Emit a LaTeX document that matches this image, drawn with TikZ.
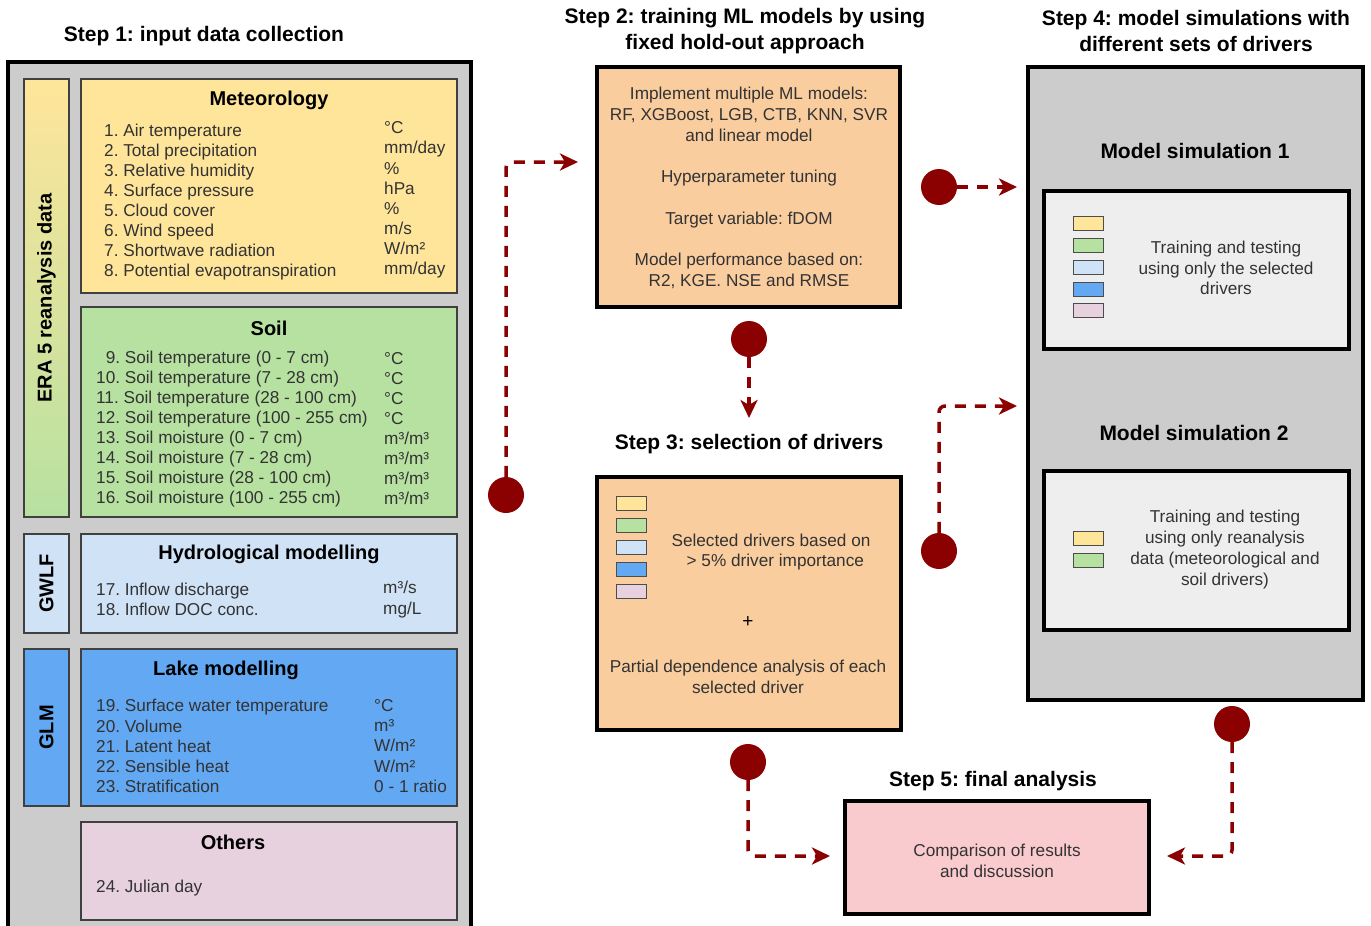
\documentclass[tikz,border=0pt]{standalone}
\usepackage{fontspec}
\setmainfont{Liberation Sans}
\usetikzlibrary{arrows.meta}
\definecolor{met}{HTML}{FFE59A}
\definecolor{soil}{HTML}{B7E1A1}
\definecolor{hyd}{HTML}{CFE2F6}
\definecolor{lake}{HTML}{62A8F2}
\definecolor{oth}{HTML}{E8D1DF}
\definecolor{peach}{HTML}{FACD9F}
\definecolor{rose}{HTML}{F9CACE}
\definecolor{panelgray}{HTML}{CCCCCC}
\definecolor{innergray}{HTML}{EEEEEE}
\definecolor{dred}{HTML}{8B0000}
\frenchspacing

\begin{document}
\begin{tikzpicture}[x=1pt,y=-1pt]
    \tikzstyle{every node}=[inner sep=0]
    \tikzstyle{grp}=[draw=black!75, line width=1.5pt]
    \tikzstyle{panel}=[draw=black, line width=3.5pt, fill=panelgray]
    \tikzstyle{stepbox}=[draw=black, line width=3.5pt]
    \tikzstyle{ttl}=[font=\fontsize{21}{26}\selectfont\bfseries, align=center]
    \tikzstyle{sub}=[font=\fontsize{20}{24}\selectfont\bfseries, align=center]
    \tikzstyle{txt}=[font=\fontsize{17.2}{20.7}\selectfont, text=black!80, align=center]
    \tikzstyle{lst}=[font=\fontsize{17.2}{20.1}\selectfont, text=black!80, align=left, anchor=west]
    \tikzstyle{side}=[font=\fontsize{20}{24}\selectfont\bfseries, rotate=90]
    \tikzstyle{sw}=[draw=black!70, line width=1pt]
    \tikzstyle{dot}=[circle, fill=dred, minimum size=36pt]
    \tikzstyle{link}=[draw=dred, line width=3.5pt, dash pattern=on 11pt off 9pt, rounded corners=6pt, -{Stealth[length=18pt,width=17pt,inset=5pt]}]
    \path[use as bounding box] (0,0) rectangle (1371,926);
    \clip (0,0) rectangle (1371,926);

    \node[ttl] (t1) at (204,36) {Step 1: input data collection};
    \node[panel, minimum width=463pt, minimum height=873pt] (p1) at (239.5,498.5) {};
    \node[grp, top color=met, bottom color=soil, minimum width=45pt, minimum height=438pt] (era) at (46.5,298) {};
    \node[side] at (era) {ERA 5 reanalysis data};
    \node[grp, fill=met, minimum width=376pt, minimum height=214pt] (met) at (269,186) {};
    \node[sub] (metT) at (269,100) {Meteorology};
    \node[lst] (metL) at (104,202) {1. Air temperature\\2. Total precipitation\\3. Relative humidity\\4. Surface pressure\\5. Cloud cover\\6. Wind speed\\7. Shortwave radiation\\8. Potential evapotranspiration};
    \node[lst] (metU) at (384,200) {°C\\mm/day\\\%\\hPa\\\%\\m/s\\W/m²\\mm/day};
    \node[grp, fill=soil, minimum width=376pt, minimum height=210pt] (soil) at (269,412) {};
    \node[sub] (soilT) at (269,328) {Soil};
    \node[lst] (soilL) at (96,429) {\phantom{1}9. Soil temperature (0 - 7 cm)\\10. Soil temperature (7 - 28 cm)\\11. Soil temperature (28 - 100 cm)\\12. Soil temperature (100 - 255 cm)\\13. Soil moisture (0 - 7 cm)\\14. Soil moisture (7 - 28 cm)\\15. Soil moisture (28 - 100 cm)\\16. Soil moisture (100 - 255 cm)};
    \node[lst] (soilU) at (384,428.5) {°C\\°C\\°C\\°C\\m³/m³\\m³/m³\\m³/m³\\m³/m³};
    \node[grp, fill=hyd, minimum width=45pt, minimum height=99pt] (gwlf) at (46.5,583.5) {};
    \node[side] at (gwlf) {GWLF};
    \node[grp, fill=hyd, minimum width=376pt, minimum height=99pt] (hyd) at (269,583.5) {};
    \node[sub] (hydT) at (269,554) {Hydrological modelling};
    \node[lst] (hydL) at (96,599.5) {17. Inflow discharge\\18. Inflow DOC conc.};
    \node[lst] (hydU) at (383,599.5) {m³/s\\mg/L};
    \node[grp, fill=lake, minimum width=45pt, minimum height=157pt] (glm) at (46.5,727.5) {};
    \node[side] at (glm) {GLM};
    \node[grp, fill=lake, minimum width=376pt, minimum height=157pt] (lake) at (269,727.5) {};
    \node[sub] (lakeT) at (226,670) {Lake modelling};
    \node[lst] (lakeL) at (96,746) {19. Surface water temperature\\20. Volume\\21. Latent heat\\22. Sensible heat\\23. Stratification};
    \node[lst] (lakeU) at (374,746) {°C\\m³\\W/m²\\W/m²\\0 - 1 ratio};
    \node[grp, fill=oth, minimum width=376pt, minimum height=98pt] (oth) at (269,871) {};
    \node[sub] (othT) at (233,842) {Others};
    \node[lst] (othL) at (96,888.5) {24. Julian day};

    \node[ttl] (t2) at (745,31) {Step 2: training ML models by using\\fixed hold-out approach};
    \node[stepbox, fill=peach, minimum width=303pt, minimum height=240pt] (s2) at (748.5,187) {};
    \node[txt] (s2txt) at (749,188) {Implement multiple ML models:\\RF, XGBoost, LGB, CTB, KNN, SVR\\and linear model\\[20.7pt]Hyperparameter tuning\\[20.7pt]Target variable: fDOM\\[20.7pt]Model performance based on:\\R2, KGE. NSE and RMSE};

    \node[ttl] (t3) at (749,444) {Step 3: selection of drivers};
    \node[stepbox, fill=peach, minimum width=304pt, minimum height=253pt] (s3) at (749,603.5) {};
    \draw[sw, fill=met] (616,496) rectangle +(30,14);
    \draw[sw, fill=soil] (616,518) rectangle +(30,14);
    \draw[sw, fill=hyd] (616,540) rectangle +(30,14);
    \draw[sw, fill=lake] (616,562) rectangle +(30,14);
    \draw[sw, fill=oth] (616,584) rectangle +(30,14);
    \node[txt] (s3a) at (771,552) {Selected drivers based on\\\phantom{x}> 5\% driver importance};
    \node[txt, text=black, font=\fontsize{19}{20}\selectfont] (s3b) at (748,622) {+};
    \node[txt] (s3c) at (748,677) {Partial dependence analysis of each\\selected driver};

    \node[ttl] (t4) at (1196,31) {Step 4: model simulations with\\different sets of drivers};
    \node[panel, minimum width=335pt, minimum height=633pt] (p4) at (1195.5,383.5) {};
    \node[ttl] (ms1T) at (1195,151) {Model simulation 1};
    \node[stepbox, fill=innergray, minimum width=305pt, minimum height=158pt] (ms1) at (1196.5,270) {};
    \draw[sw, fill=met] (1073,216) rectangle +(30,14);
    \draw[sw, fill=soil] (1073,238) rectangle +(30,14);
    \draw[sw, fill=hyd] (1073,260) rectangle +(30,14);
    \draw[sw, fill=lake] (1073,282) rectangle +(30,14);
    \draw[sw, fill=oth] (1073,303) rectangle +(30,14);
    \node[txt] (ms1txt) at (1226,268) {Training and testing\\using only the selected\\drivers};
    \node[ttl] (ms2T) at (1194,433) {Model simulation 2};
    \node[stepbox, fill=innergray, minimum width=305pt, minimum height=159pt] (ms2) at (1196.5,550.5) {};
    \draw[sw, fill=met] (1073,531) rectangle +(30,14);
    \draw[sw, fill=soil] (1073,553) rectangle +(30,14);
    \node[txt] (ms2txt) at (1225,549.5) {Training and testing\\using only reanalysis\\data (meteorological and\\soil drivers)};

    \node[ttl] (t5) at (993,781) {Step 5: final analysis};
    \node[stepbox, fill=rose, minimum width=304pt, minimum height=113pt] (s5) at (997,857.5) {};
    \node[txt] (s5txt) at (997,861) {Comparison of results\\and discussion};

    \node[dot] (d1) at (506,495) {};
    \node[dot] (d2) at (749,339) {};
    \node[dot] (d3) at (939,187) {};
    \node[dot] (d4) at (939,551) {};
    \node[dot] (d5) at (748,762) {};
    \node[dot] (d6) at (1232,724) {};
    \coordinate (e1) at (578,162);
    \coordinate (e2) at (749,418);
    \coordinate (e3) at (1017,187);
    \coordinate (e4) at (1017,406);
    \coordinate (e5) at (830,856);
    \coordinate (e6) at (1167,856);
    \draw[link] (d1) |- (e1);
    \draw[link] (d2) -- (e2);
    \draw[link] (d3) -- (e3);
    \draw[link] (d4) |- (e4);
    \draw[link] (d5) |- (e5);
    \draw[link] (d6) |- (e6);
\end{tikzpicture}
\end{document}
